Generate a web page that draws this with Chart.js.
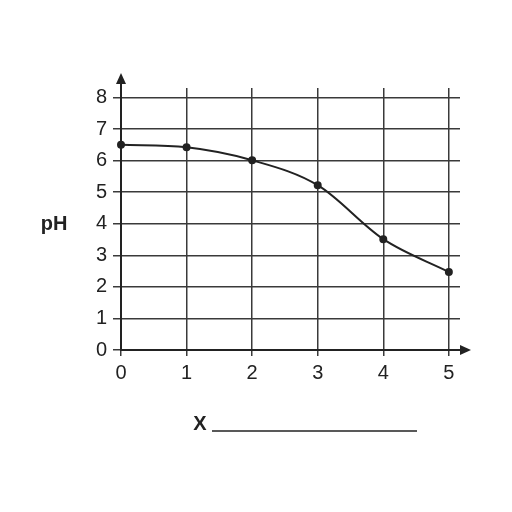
<!DOCTYPE html>
<html>
<head>
<meta charset="utf-8">
<script src="https://cdn.jsdelivr.net/npm/chart.js@4"></script>
<style>
  html, body { margin: 0; padding: 0; background: #fff; }
  #wrap { width: 512px; height: 512px; }
</style>
</head>
<body>
<div id="wrap"><canvas id="phChart" width="512" height="512"></canvas></div>
<script>
const xValues = [0, 1, 2, 3, 4, 5];
const phValues = [6.5, 6.42, 6.01, 5.22, 3.51, 2.47];
const xTicks = [0, 1, 2, 3, 4, 5];
const yTicks = [0, 1, 2, 3, 4, 5, 6, 7, 8];

const ink = "#222";
const gridInk = "#3a3a3a";

// arrows, "pH" and the "X ____" line
const extras = {
  id: "extras",
  afterDraw(chart) {
    const c = chart.ctx;
    const a = chart.chartArea;
    const x0 = chart.scales.x.getPixelForValue(0);
    const y0 = chart.scales.y.getPixelForValue(0);
    c.save();
    c.strokeStyle = ink;
    c.fillStyle = ink;
    c.lineWidth = 2;
    // y arrow
    c.beginPath();
    c.moveTo(x0, a.top);
    c.lineTo(x0, a.top - 12);
    c.stroke();
    c.beginPath();
    c.moveTo(x0, a.top - 15);
    c.lineTo(x0 - 5, a.top - 4);
    c.lineTo(x0 + 5, a.top - 4);
    c.closePath();
    c.fill();
    // x arrow
    c.beginPath();
    c.moveTo(a.right, y0);
    c.lineTo(a.right + 7, y0);
    c.stroke();
    c.beginPath();
    c.moveTo(a.right + 11, y0);
    c.lineTo(a.right, y0 - 5);
    c.lineTo(a.right, y0 + 5);
    c.closePath();
    c.fill();
    // labels
    c.font = "bold 20px 'Liberation Sans', Arial, sans-serif";
    c.textBaseline = "middle";
    c.textAlign = "center";
    c.fillText("pH", 54, 224);
    c.fillText("X", 200, 424);
    c.lineWidth = 1.5;
    c.beginPath();
    c.moveTo(212, 431);
    c.lineTo(417, 431);
    c.stroke();
    c.restore();
  }
};

new Chart(document.getElementById("phChart").getContext("2d"), {
  type: "line",
  data: {
    datasets: [{
      data: xValues.map((x, i) => ({ x: x, y: phValues[i] })),
      borderColor: ink,
      backgroundColor: ink,
      borderWidth: 2,
      pointRadius: 3,
      cubicInterpolationMode: "monotone",
      clip: false,
      fill: false
    }]
  },
  options: {
    responsive: false,
    animation: false,
    events: [],
    layout: { padding: { left: 0, right: 52, top: 88, bottom: 0 } },
    plugins: { legend: { display: false }, tooltip: { enabled: false } },
    scales: {
      x: {
        type: "linear",
        min: 0,
        max: 5.17,
        afterBuildTicks: s => { s.ticks = xTicks.map(v => ({ value: v })); },
        afterFit: s => { s.height = 162; },
        grid: { color: gridInk, lineWidth: 1.5, tickLength: 6, drawOnChartArea: true },
        border: { color: ink, width: 2 },
        ticks: {
          color: ink,
          padding: 5,
          maxRotation: 0,
          font: { family: "'Liberation Sans', Arial, sans-serif", size: 20 }
        }
      },
      y: {
        min: 0,
        max: 8.3,
        afterBuildTicks: s => { s.ticks = yTicks.map(v => ({ value: v })); },
        afterFit: s => { s.width = 121; },
        grid: { color: gridInk, lineWidth: 1.5, tickLength: 8 },
        border: { color: ink, width: 2 },
        ticks: {
          color: ink,
          padding: 6,
          font: { family: "'Liberation Sans', Arial, sans-serif", size: 20 }
        }
      }
    }
  },
  plugins: [extras]
});
</script>
</body>
</html>
